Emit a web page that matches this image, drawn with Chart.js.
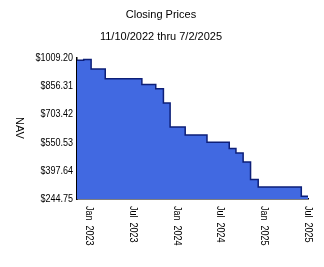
<!DOCTYPE html>
<html lang="en">
<head>
  <meta charset="UTF-8">
  <title>Closing Prices</title>
  <script src="https://cdn.jsdelivr.net/npm/chart.js"></script>
  <style>
    body { margin: 0; background: #fff; }
    #wrap { width: 324px; height: 267px; position: relative; }
  </style>
</head>
<body>
  <div id="wrap"><canvas id="navChart"></canvas></div>
  <script>
    // step dates (price changes) and NAV values
    const stepDates = ['2022-11-10', '2022-12-08', '2023-01-08', '2023-03-08', '2023-08-08', '2023-10-05',
      '2023-11-06', '2023-12-04', '2024-02-05', '2024-05-06', '2024-08-07', '2024-09-04',
      '2024-10-04', '2024-11-04', '2024-12-06', '2025-06-04', '2025-07-02'];
    const navValues = [996.6, 1001.0, 950.0, 897.0, 865.0, 843.0,
      765.0, 635.0, 592.0, 552.0, 518.0, 494.0,
      445.0, 350.0, 310.0, 259.0, 259.0];
    const yTicks = [244.75, 397.64, 550.53, 703.42, 856.31, 1009.20];
    const xTickDates = ['2023-01-01', '2023-07-01', '2024-01-01', '2024-07-01', '2025-01-01', '2025-07-01'];
    const xTickLabels = ['Jan  2023', 'Jul  2023', 'Jan  2024', 'Jul  2024', 'Jan  2025', 'Jul  2025'];

    const toMs = s => Date.parse(s + 'T00:00:00Z');
    const points = stepDates.map((d, i) => ({ x: toMs(d), y: navValues[i] }));
    const font = '11px "Liberation Sans", Arial, sans-serif';
    const squeeze = 0.82; // tick text is narrower than the titles

    const textPlugin = {
      id: 'texts',
      afterDraw(chart) {
        const ctx = chart.ctx;
        const xs = chart.scales.x, ys = chart.scales.y;
        ctx.save();
        ctx.fillStyle = '#000';
        ctx.font = font;
        ctx.textAlign = 'center';
        ctx.textBaseline = 'middle';
        ctx.fillText('Closing Prices', 161, 15);
        ctx.fillText('11/10/2022 thru 7/2/2025', 161, 37);
        // y title, reads top to bottom
        ctx.save();
        ctx.translate(19, 128);
        ctx.rotate(Math.PI / 2);
        ctx.fillText('NAV', 0, 0);
        ctx.restore();
        // y tick labels
        ctx.textAlign = 'right';
        yTicks.forEach(v => {
          ctx.save();
          ctx.translate(73, ys.getPixelForValue(v));
          ctx.scale(squeeze, 1);
          ctx.fillText('$' + v.toFixed(2), 0, 0);
          ctx.restore();
        });
        // x labels rotated clockwise
        ctx.textAlign = 'left';
        xTickDates.forEach((d, i) => {
          ctx.save();
          ctx.translate(xs.getPixelForValue(toMs(d)), 206);
          ctx.rotate(Math.PI / 2);
          ctx.scale(squeeze, 1);
          ctx.fillText(xTickLabels[i], 0, 0);
          ctx.restore();
        });
        ctx.restore();
      }
    };

    new Chart(document.getElementById('navChart'), {
      type: 'line',
      data: {
        datasets: [{
          data: points,
          stepped: true,
          fill: 'start',
          backgroundColor: '#4169e1',
          borderColor: '#0d1f78',
          borderWidth: 1.5,
          pointRadius: 0
        }]
      },
      options: {
        responsive: true,
        maintainAspectRatio: false,
        animation: false,
        layout: { padding: { top: 58, right: 16, bottom: 68, left: 0 } },
        plugins: { legend: { display: false }, tooltip: { enabled: false } },
        scales: {
          x: {
            type: 'linear',
            min: toMs('2022-11-10'),
            max: toMs('2025-07-02'),
            grid: { display: false, drawTicks: false },
            border: { display: true, color: '#000', width: 1.5 },
            ticks: { display: false },
            afterFit(s) { s.height = 0; }
          },
          y: {
            min: 244.75,
            max: 1009.20,
            grid: { display: false, drawTicks: false },
            border: { display: true, color: '#000', width: 1.5 },
            ticks: { display: false },
            afterFit(s) { s.width = 77; }
          }
        }
      },
      plugins: [textPlugin]
    });
  </script>
</body>
</html>
